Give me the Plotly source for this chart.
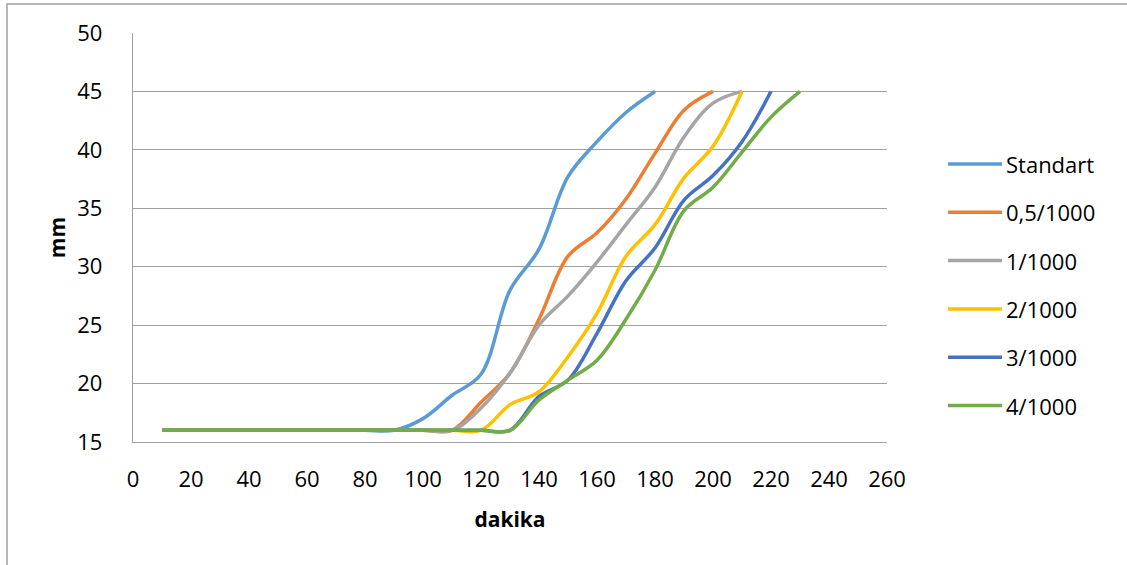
import plotly.graph_objects as go

# Minutes at which readings were taken (every 10 min)
minutes = list(range(10, 240, 10))

# Readings (mm) per mix; each series ends once 45 mm is reached
standart = [16, 16, 16, 16, 16, 16, 16, 16, 16, 17, 19, 20.8, 28, 31.5, 37.7, 40.7, 43.2, 45]
mix_05 = [16, 16, 16, 16, 16, 16, 16, 16, 16, 16, 16, 18.4, 20.9, 25.5, 30.9, 32.9, 35.8, 39.7, 43.4, 45]
mix_1 = [16, 16, 16, 16, 16, 16, 16, 16, 16, 16, 16, 17.9, 20.9, 25, 27.5, 30.4, 33.6, 36.8, 41.1, 44, 45]
mix_2 = [16, 16, 16, 16, 16, 16, 16, 16, 16, 16, 16, 16, 18.2, 19.3, 22.3, 26, 30.9, 33.6, 37.6, 40.3, 45]
mix_3 = [16, 16, 16, 16, 16, 16, 16, 16, 16, 16, 16, 16, 16, 18.9, 20.3, 24.3, 28.8, 31.6, 35.7, 37.8, 40.7, 45]
mix_4 = [16, 16, 16, 16, 16, 16, 16, 16, 16, 16, 16, 16, 16, 18.6, 20.3, 22, 25.5, 29.7, 34.8, 36.8, 39.8, 42.8, 45]

series_names = ["Standart", "0,5/1000", "1/1000", "2/1000", "3/1000", "4/1000"]
series_values = [standart, mix_05, mix_1, mix_2, mix_3, mix_4]
series_colors = ["#5B9BD5", "#ED7D31", "#A5A5A5", "#FFC000", "#4472C4", "#70AD47"]

x_ticks = list(range(0, 261, 20))
y_ticks = list(range(15, 51, 5))

FONT = "Open Sans"
GRID = "#A0A0A0"

# Plot-area geometry in pixels
W, H = 1127, 565
L, R, T, B = 133, 887, 33, 442

fig = go.Figure()
for name, vals, col in zip(series_names, series_values, series_colors):
    fig.add_trace(go.Scatter(
        x=minutes[:len(vals)], y=vals, name=name, mode="lines",
        line=dict(color=col, width=3.5, shape="spline", smoothing=1.0),
        showlegend=False,
    ))

def px_to_paper_x(px):
    return (px - L) / (R - L)

def px_to_paper_y(py):
    return (B - py) / (B - T)

# Legend drawn on the right with long line samples
shapes = []
annotations = []
for i, (name, col) in enumerate(zip(series_names, series_colors)):
    yp = px_to_paper_y(164 + 48.3 * i)
    shapes.append(dict(type="line", xref="paper", yref="paper",
                       x0=px_to_paper_x(948), x1=px_to_paper_x(1002), y0=yp, y1=yp,
                       line=dict(color=col, width=3.5)))
    annotations.append(dict(xref="paper", yref="paper", x=px_to_paper_x(1004), y=yp,
                            text=name, showarrow=False, xanchor="left", yanchor="middle",
                            font=dict(family=FONT, size=22, color="#000000")))

# Chart border
shapes.append(dict(type="rect", xref="paper", yref="paper",
                   x0=px_to_paper_x(7), x1=px_to_paper_x(1140),
                   y0=px_to_paper_y(580), y1=px_to_paper_y(4),
                   line=dict(color="#A0A0A0", width=1.5), fillcolor="rgba(0,0,0,0)",
                   layer="below"))

fig.update_layout(
    width=W, height=H,
    margin=dict(l=L, r=W - R, t=T, b=H - B, pad=0),
    paper_bgcolor="white", plot_bgcolor="white",
    font=dict(family=FONT, size=22, color="#000000"),
    shapes=shapes, annotations=annotations,
    showlegend=False,
)
fig.update_xaxes(
    range=[0, 260], tickvals=x_ticks, ticktext=[str(v) for v in x_ticks],
    showgrid=False, zeroline=False,
    showline=True, linecolor=GRID, linewidth=1.3,
    ticks="", ticklabelstandoff=17,
    title=dict(text="<b>dakika</b>", font=dict(family=FONT, size=21), standoff=20),
)
fig.update_yaxes(
    range=[15, 50], tickvals=y_ticks, ticktext=[str(v) for v in y_ticks],
    showgrid=True, gridcolor=GRID, gridwidth=1.3, zeroline=False,
    showline=True, linecolor=GRID, linewidth=1.3,
    ticks="", ticklabelstandoff=25,
    title=dict(text="<b>mm</b>", font=dict(family=FONT, size=21), standoff=5),
)

fig.write_html("out.html")
